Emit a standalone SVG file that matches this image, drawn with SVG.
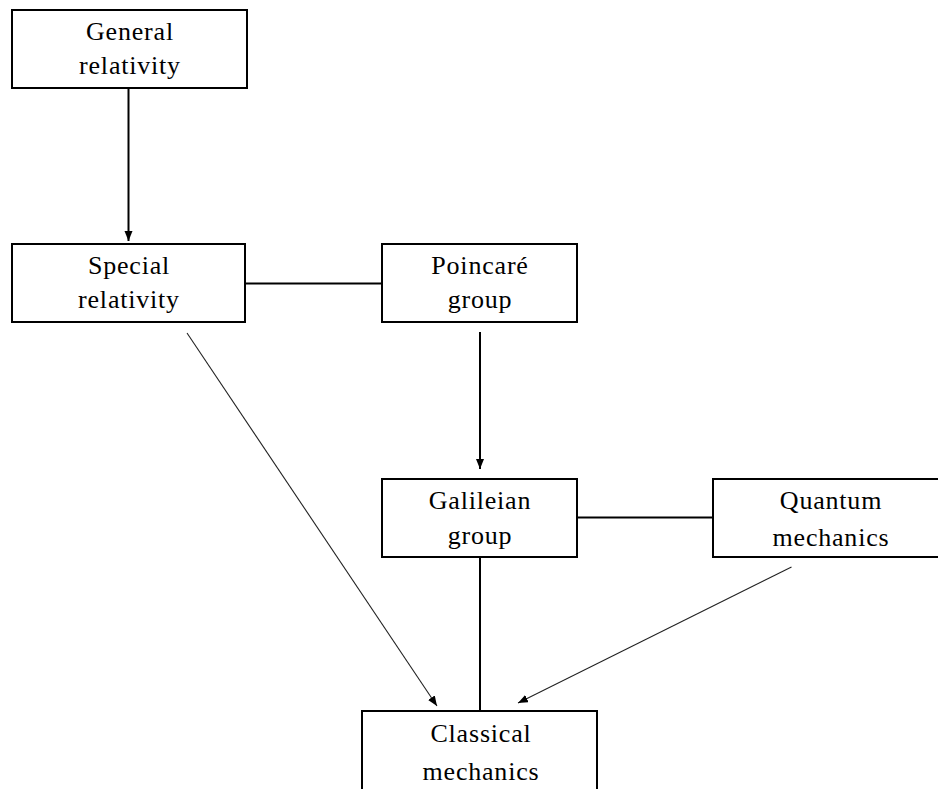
<svg xmlns="http://www.w3.org/2000/svg" width="938" height="789" viewBox="0 0 938 789">
<style>
.box{fill:#fff;stroke:#000;stroke-width:2}
.t{font-family:"Liberation Serif","Times New Roman",serif;font-size:26px;letter-spacing:0.8px;text-anchor:middle;fill:#000}
.thick{stroke:#000;stroke-width:2;fill:none}
.thin{stroke:#222;stroke-width:1.1;fill:none}
</style>
<defs>
<marker id="ah" markerUnits="userSpaceOnUse" markerWidth="12" markerHeight="10" refX="10" refY="4" orient="auto">
<path d="M0,0 L10,4 L0,8 z" fill="#000"/>
</marker>
</defs>
<rect width="938" height="789" fill="#fff"/>
<g id="connectors">
<line class="thick" x1="128.5" y1="88" x2="128.5" y2="241" marker-end="url(#ah)"/>
<line class="thick" x1="245" y1="283.5" x2="382" y2="283.5"/>
<line class="thick" x1="480" y1="332" x2="480" y2="469" marker-end="url(#ah)"/>
<line class="thick" x1="577" y1="517.5" x2="713" y2="517.5"/>
<line class="thick" x1="480" y1="557" x2="480" y2="711"/>
<line class="thin" x1="187" y1="333" x2="437" y2="706" marker-end="url(#ah)"/>
<line class="thin" x1="791.5" y1="567" x2="518" y2="703" marker-end="url(#ah)"/>
</g>
<g id="general">
<rect class="box" x="12" y="10" width="235" height="78"/>
<text class="t" x="130" y="40">General</text>
<text class="t" x="130" y="74">relativity</text>
</g>
<g id="special">
<rect class="box" x="12" y="244" width="233" height="78"/>
<text class="t" x="129" y="274">Special</text>
<text class="t" x="129" y="308">relativity</text>
</g>
<g id="poincare">
<rect class="box" x="382" y="244" width="195" height="78"/>
<text class="t" x="480" y="274">Poincaré</text>
<text class="t" x="480" y="308">group</text>
</g>
<g id="galileian">
<rect class="box" x="382" y="479" width="195" height="78"/>
<text class="t" x="480" y="509">Galileian</text>
<text class="t" x="480" y="544">group</text>
</g>
<g id="quantum">
<rect class="box" x="713" y="479" width="235" height="78"/>
<text class="t" x="831" y="509">Quantum</text>
<text class="t" x="831" y="546">mechanics</text>
</g>
<g id="classical">
<rect class="box" x="362" y="711" width="235" height="90"/>
<text class="t" x="481" y="742">Classical</text>
<text class="t" x="481" y="780">mechanics</text>
</g>
</svg>
